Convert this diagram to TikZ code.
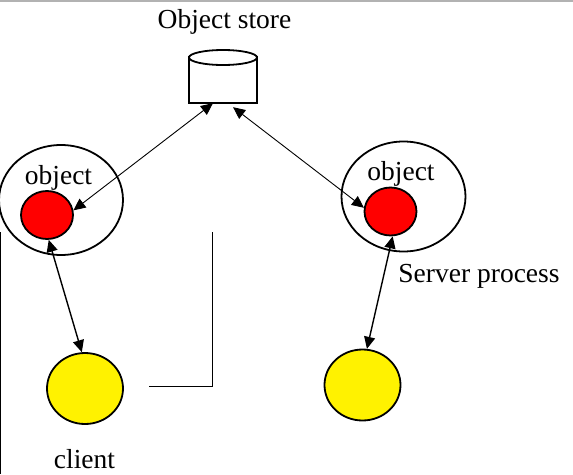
\documentclass[tikz,border=0pt]{standalone}
\usepackage{fontspec}
\setmainfont{Liberation Serif}
\usetikzlibrary{shapes.geometric,arrows.meta,calc}
\begin{document}
\begin{tikzpicture}[x=1pt,y=-1pt,
  lbl/.style={font=\fontsize{27.5}{30}\selectfont, inner sep=0pt, anchor=base},
  proc/.style={draw, ellipse, line width=1.8pt, minimum width=124pt, minimum height=110pt, inner sep=0pt},
  objc/.style={draw, ellipse, line width=1.8pt, fill=red, minimum width=52pt, minimum height=48pt, inner sep=0pt},
  clnt/.style={draw, ellipse, line width=1.8pt, fill=yellow, minimum width=76pt, minimum height=71pt, inner sep=0pt},
  arr/.style={{Triangle[length=12pt,width=11pt]}-{Triangle[length=12pt,width=11pt]}, line width=0.9pt},
  varr/.style={{Triangle[length=12pt,width=11pt]}-{Triangle[length=12pt,width=11pt]}, line width=1.4pt},
  plain/.style={line width=1pt}]
\useasboundingbox (0,0) rectangle (573,474);
\draw[black!30, line width=1.5pt] (0,0.75) -- (573,0.75);

% object store
\node[lbl] (storelbl) at (224.5,28) {Object store};
\node[minimum width=68pt, minimum height=53pt, inner sep=0pt] (store) at (223,76.5) {};
\draw[line width=1.8pt, fill=white] (189,57) rectangle (257,103);
\draw[line width=1.8pt, fill=white] (223,57.5) ellipse [x radius=34, y radius=7.5];

% processes
\node[proc] (procL) at (61,200) {};
\node[proc] (procR) at (403.5,196.5) {};
\node[lbl] (objLlbl) at (58.5,184) {object};
\node[lbl] (objRlbl) at (401,180) {object};
\node[objc] (objL) at (47,215) {};
\node[objc] (objR) at (390.5,211.5) {};
\node[lbl] (srvlbl) at (479,282) {Server process};

% clients
\node[clnt] (cliL) at (85,388.5) {};
\node[clnt] (cliR) at (362.5,385) {};
\node[lbl] (clilbl) at (84.5,468) {client};

% connectors
\draw[arr] ($(store.south west)!0.353!(store.south east)$) -- (objL.10);
\draw[arr] ($(store.south west)!0.647!(store.south east)+(0,4)$) -- (objR.172);
\draw[varr] (objL.-86) -- (cliL.95);
\draw[varr] (objR.-85) -- (cliR.83);

% plain lines
\draw[line width=1.3pt] (0.65,232) -- (0.65,474);
\draw[plain] (212,232) -- (212,386) -- (149,386);
\end{tikzpicture}
\end{document}
